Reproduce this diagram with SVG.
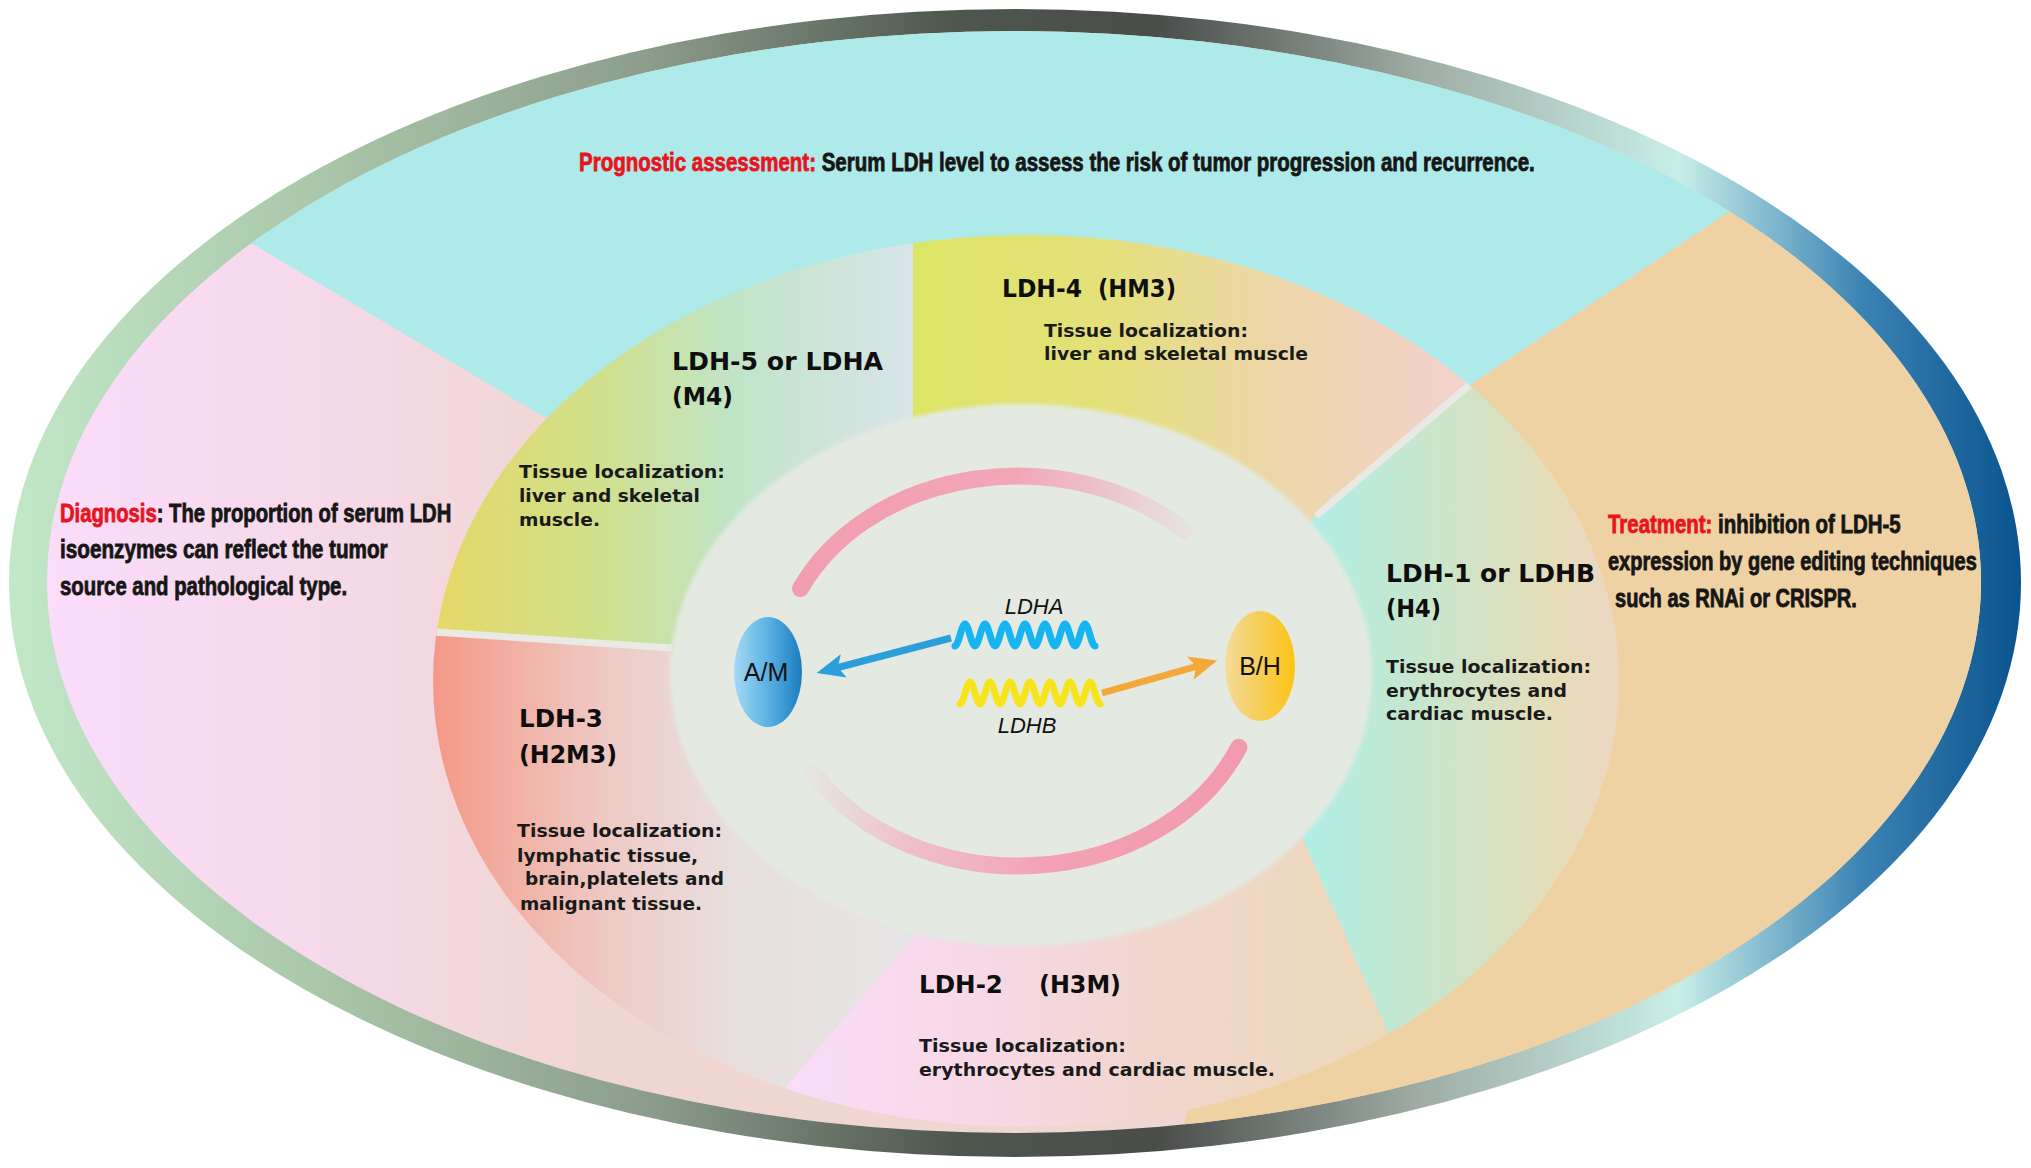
<svg xmlns="http://www.w3.org/2000/svg" width="2031" height="1168" viewBox="0 0 2031 1168">
<style>
.outer{font-family:"Liberation Sans",Arial,sans-serif;font-weight:bold;font-size:25px;fill:#161616;stroke:#161616;stroke-width:0.8}
.red{fill:#e8141e;stroke:#e8141e}
.title{font-family:"DejaVu Sans","Liberation Sans",sans-serif;font-weight:bold;font-size:25px;fill:#0e0e0e}
.tissue{font-family:"DejaVu Sans","Liberation Sans",sans-serif;font-weight:bold;font-size:18.5px;fill:#1a1a1a}
.gene{font-family:"Liberation Sans",Arial,sans-serif;font-style:italic;font-size:22px;fill:#111;text-anchor:middle}
.sub{font-family:"Liberation Sans",Arial,sans-serif;font-size:25px;fill:#111;text-anchor:middle}
.divider{stroke:#e9e9e6;stroke-width:7;fill:none}
.arc{fill:none;stroke-width:17;stroke-linecap:round}
.wave{fill:none;stroke-width:7;stroke-linejoin:round;stroke-linecap:round}
.arrow{fill:none;stroke-width:7}
</style>
<defs>
<linearGradient id="gBorder" x1="0" y1="0" x2="1" y2="0">
<stop offset="0" stop-color="#c2e8c8"/>
<stop offset="0.15" stop-color="#aac8aa"/>
<stop offset="0.32" stop-color="#8c9c8c"/>
<stop offset="0.47" stop-color="#4e564e"/>
<stop offset="0.57" stop-color="#4a4c4a"/>
<stop offset="0.7" stop-color="#9eaca4"/>
<stop offset="0.83" stop-color="#c8eee8"/>
<stop offset="0.92" stop-color="#3c84b4"/>
<stop offset="1" stop-color="#0a538e"/>
</linearGradient>
<linearGradient id="gLeft" gradientUnits="userSpaceOnUse" x1="48" y1="0" x2="600" y2="0">
<stop offset="0" stop-color="#fbdcfb"/>
<stop offset="0.5" stop-color="#f6d9ea"/>
<stop offset="1" stop-color="#f0d6d0"/>
</linearGradient>
<linearGradient id="gL5" gradientUnits="userSpaceOnUse" x1="433" y1="0" x2="913" y2="0">
<stop offset="0" stop-color="#e6d866"/>
<stop offset="0.35" stop-color="#d0e08c"/>
<stop offset="0.62" stop-color="#c0e4c6"/>
<stop offset="1" stop-color="#d8e4ea"/>
</linearGradient>
<linearGradient id="gL4" gradientUnits="userSpaceOnUse" x1="913" y1="0" x2="1464" y2="0">
<stop offset="0" stop-color="#dde566"/>
<stop offset="0.35" stop-color="#e4e07a"/>
<stop offset="0.65" stop-color="#ecd6a8"/>
<stop offset="1" stop-color="#f2d2cc"/>
</linearGradient>
<linearGradient id="gL1" gradientUnits="userSpaceOnUse" x1="1300" y1="0" x2="1620" y2="0">
<stop offset="0" stop-color="#aeeee6"/>
<stop offset="0.4" stop-color="#c8e6cc"/>
<stop offset="0.8" stop-color="#e6dcb8"/>
<stop offset="1" stop-color="#ecd8c4"/>
</linearGradient>
<linearGradient id="gL2" gradientUnits="userSpaceOnUse" x1="790" y1="0" x2="1400" y2="0">
<stop offset="0" stop-color="#fbdcfa"/>
<stop offset="0.35" stop-color="#f6d8e4"/>
<stop offset="0.6" stop-color="#f0d6cc"/>
<stop offset="1" stop-color="#ecd8b8"/>
</linearGradient>
<linearGradient id="gL3" gradientUnits="userSpaceOnUse" x1="433" y1="0" x2="930" y2="0">
<stop offset="0" stop-color="#f49886"/>
<stop offset="0.12" stop-color="#f2aa9c"/>
<stop offset="0.35" stop-color="#eecac4"/>
<stop offset="0.6" stop-color="#e8dede"/>
<stop offset="1" stop-color="#e6e6e6"/>
</linearGradient>
<linearGradient id="gArcTop" gradientUnits="userSpaceOnUse" x1="800" y1="0" x2="1190" y2="0">
<stop offset="0" stop-color="#f29eb1"/>
<stop offset="0.55" stop-color="#f2a6b6"/>
<stop offset="1" stop-color="#e6e2e0"/>
</linearGradient>
<linearGradient id="gArcBot" gradientUnits="userSpaceOnUse" x1="1239" y1="0" x2="814" y2="0">
<stop offset="0" stop-color="#f29aae"/>
<stop offset="0.45" stop-color="#f2a2b4"/>
<stop offset="0.78" stop-color="#efc0c8"/>
<stop offset="1" stop-color="#e6e4e0"/>
</linearGradient>
<linearGradient id="gAM" x1="0" y1="0" x2="1" y2="0">
<stop offset="0" stop-color="#a6d8f4"/>
<stop offset="0.5" stop-color="#5ab2e4"/>
<stop offset="1" stop-color="#1a7cc0"/>
</linearGradient>
<linearGradient id="gBH" x1="0" y1="0" x2="1" y2="0">
<stop offset="0" stop-color="#f4dc9c"/>
<stop offset="0.55" stop-color="#f6cc50"/>
<stop offset="1" stop-color="#fcc414"/>
</linearGradient>
<clipPath id="clipContent"><ellipse cx="1014" cy="582" rx="967" ry="551"/></clipPath>
<clipPath id="clipRing"><ellipse cx="1026" cy="681" rx="593" ry="446"/></clipPath>
<filter id="soft" x="-5%" y="-5%" width="110%" height="110%"><feGaussianBlur stdDeviation="2"/></filter>
<marker id="headBlue" viewBox="0 0 28 24" markerWidth="28" markerHeight="24" refX="8" refY="12" orient="auto" markerUnits="userSpaceOnUse">
<path d="M0,0 L28,12 L0,24 L6,12 z" fill="#2b9fd8"/>
</marker>
<marker id="headOrange" viewBox="0 0 28 24" markerWidth="28" markerHeight="24" refX="8" refY="12" orient="auto" markerUnits="userSpaceOnUse">
<path d="M0,0 L28,12 L0,24 L6,12 z" fill="#f5a83a"/>
</marker>
</defs>
<rect width="2031" height="1168" fill="#ffffff"/>
<g id="frame">
<ellipse cx="1015" cy="583" rx="1006" ry="574" fill="url(#gBorder)"/>
</g>
<g id="background" clip-path="url(#clipContent)">
<rect x="0" y="0" width="2031" height="1168" fill="url(#gLeft)"/>
<polygon points="0,94 544,417 1026,400 1464,389 2031,10 2031,0 0,0" fill="#aeeaea"/>
<polygon points="2031,10 1464,389 1300,700 1172,1168 2031,1168" fill="#efd2a3"/>
</g>
<g id="ring" clip-path="url(#clipRing)">
<g id="node-ldh5-bg"><polygon points="300,623 667,648 1023,680 913,420 913,150 300,150" fill="url(#gL5)"/></g>
<g id="node-ldh4-bg"><polygon points="913,150 913,420 1023,680 1300,530 1530,332 1530,150" fill="url(#gL4)"/></g>
<g id="node-ldh1-bg"><polygon points="1530,332 1300,530 1023,680 1290,810 1410,1083 1700,1083 1700,332" fill="url(#gL1)"/></g>
<g id="node-ldh2-bg"><polygon points="1410,1083 1290,810 1023,680 930,917 760,1117 760,1200 1410,1200" fill="url(#gL2)"/></g>
<g id="node-ldh3-bg"><polygon points="760,1117 930,917 1023,680 667,648 300,623 300,1200 760,1200" fill="url(#gL3)"/></g>
<line class="divider" x1="420" y1="631" x2="672" y2="648"/>
<line class="divider" x1="1480" y1="376" x2="1316" y2="516" stroke-width="5"/>
</g>
<g id="node-center">
<ellipse cx="1021" cy="675" rx="351" ry="271" fill="#e4eae2" filter="url(#soft)"/>
<path class="arc" d="M800.5,588.6 A240,195 0 0 1 1184.7,530.7" stroke="url(#gArcTop)"/>
<path class="arc" d="M1238.9,747.2 A240,195 0 0 1 814.5,774.3" stroke="url(#gArcBot)"/>
</g>
<g id="node-prognostic">
<text class="outer" transform="translate(579,171) scale(0.82,1)"><tspan class="red">Prognostic assessment:</tspan> Serum LDH level to assess the risk of tumor progression and recurrence.</text>
</g>
<g id="node-diagnosis">
<text class="outer" transform="translate(60,522) scale(0.81,1)"><tspan class="red">Diagnosis</tspan>: The proportion of serum LDH</text>
<text class="outer" transform="translate(60,558) scale(0.828,1)">isoenzymes can reflect the tumor</text>
<text class="outer" transform="translate(60,595) scale(0.814,1)">source and pathological type.</text>
</g>
<g id="node-treatment">
<text class="outer" transform="translate(1608,533) scale(0.817,1)"><tspan class="red">Treatment:</tspan> inhibition of LDH-5</text>
<text class="outer" transform="translate(1608,570) scale(0.8,1)">expression by gene editing techniques</text>
<text class="outer" transform="translate(1615,607) scale(0.803,1)">such as RNAi or CRISPR.</text>
</g>
<g id="node-ldh5">
<text class="title" x="672" y="370" textLength="211" lengthAdjust="spacingAndGlyphs">LDH-5 or LDHA</text>
<text class="title" x="672" y="405" textLength="61" lengthAdjust="spacingAndGlyphs">(M4)</text>
<text class="tissue" x="519" y="478" textLength="206" lengthAdjust="spacingAndGlyphs">Tissue localization:</text>
<text class="tissue" x="519" y="502" textLength="181" lengthAdjust="spacingAndGlyphs">liver and skeletal</text>
<text class="tissue" x="519" y="526" textLength="81" lengthAdjust="spacingAndGlyphs">muscle.</text>
</g>
<g id="node-ldh4">
<text class="title" x="1002" y="297" textLength="80" lengthAdjust="spacingAndGlyphs">LDH-4</text>
<text class="title" x="1098" y="297" textLength="78" lengthAdjust="spacingAndGlyphs">(HM3)</text>
<text class="tissue" x="1044" y="337" textLength="204" lengthAdjust="spacingAndGlyphs">Tissue localization:</text>
<text class="tissue" x="1044" y="360" textLength="264" lengthAdjust="spacingAndGlyphs">liver and skeletal muscle</text>
</g>
<g id="node-ldh1">
<text class="title" x="1386" y="582" textLength="209" lengthAdjust="spacingAndGlyphs">LDH-1 or LDHB</text>
<text class="title" x="1386" y="617" textLength="55" lengthAdjust="spacingAndGlyphs">(H4)</text>
<text class="tissue" x="1386" y="673" textLength="205" lengthAdjust="spacingAndGlyphs">Tissue localization:</text>
<text class="tissue" x="1386" y="697" textLength="181" lengthAdjust="spacingAndGlyphs">erythrocytes and</text>
<text class="tissue" x="1386" y="720" textLength="167" lengthAdjust="spacingAndGlyphs">cardiac muscle.</text>
</g>
<g id="node-ldh3">
<text class="title" x="519" y="727" textLength="84" lengthAdjust="spacingAndGlyphs">LDH-3</text>
<text class="title" x="519" y="763" textLength="98" lengthAdjust="spacingAndGlyphs">(H2M3)</text>
<text class="tissue" x="517" y="837" textLength="205" lengthAdjust="spacingAndGlyphs">Tissue localization:</text>
<text class="tissue" x="517" y="862" textLength="181" lengthAdjust="spacingAndGlyphs">lymphatic tissue,</text>
<text class="tissue" x="525" y="885" textLength="199" lengthAdjust="spacingAndGlyphs">brain,platelets and</text>
<text class="tissue" x="520" y="910" textLength="182" lengthAdjust="spacingAndGlyphs">malignant tissue.</text>
</g>
<g id="node-ldh2">
<text class="title" x="919" y="993" textLength="84" lengthAdjust="spacingAndGlyphs">LDH-2</text>
<text class="title" x="1039" y="993" textLength="82" lengthAdjust="spacingAndGlyphs">(H3M)</text>
<text class="tissue" x="919" y="1052" textLength="207" lengthAdjust="spacingAndGlyphs">Tissue localization:</text>
<text class="tissue" x="919" y="1076" textLength="356" lengthAdjust="spacingAndGlyphs">erythrocytes and cardiac muscle.</text>
</g>
<g id="node-am">
<ellipse cx="768" cy="672" rx="34" ry="55" fill="url(#gAM)"/>
<text class="sub" x="766" y="681">A/M</text>
</g>
<g id="node-bh">
<ellipse cx="1260" cy="666" rx="35" ry="55" fill="url(#gBH)"/>
<text class="sub" x="1260" y="675">B/H</text>
</g>
<g id="node-ldha">
<text class="gene" x="1034" y="614">LDHA</text>
<path class="wave" stroke="#16b4f0" d="M955,646 c3.64,0 6.36,-22 10,-22 c3.64,0 6.36,22 10,22 c3.64,0 6.36,-22 10,-22 c3.64,0 6.36,22 10,22 c3.64,0 6.36,-22 10,-22 c3.64,0 6.36,22 10,22 c3.64,0 6.36,-22 10,-22 c3.64,0 6.36,22 10,22 c3.64,0 6.36,-22 10,-22 c3.64,0 6.36,22 10,22 c3.64,0 6.36,-22 10,-22 c3.64,0 6.36,22 10,22 c3.64,0 6.36,-22 10,-22 c3.64,0 6.36,22 10,22"/>
</g>
<g id="node-ldhb">
<text class="gene" x="1027" y="733">LDHB</text>
<path class="wave" stroke="#f8e41c" d="M960,704 c3.64,0 6.36,-22 10,-22 c3.64,0 6.36,22 10,22 c3.64,0 6.36,-22 10,-22 c3.64,0 6.36,22 10,22 c3.64,0 6.36,-22 10,-22 c3.64,0 6.36,22 10,22 c3.64,0 6.36,-22 10,-22 c3.64,0 6.36,22 10,22 c3.64,0 6.36,-22 10,-22 c3.64,0 6.36,22 10,22 c3.64,0 6.36,-22 10,-22 c3.64,0 6.36,22 10,22 c3.64,0 6.36,-22 10,-22 c3.64,0 6.36,22 10,22"/>
</g>
<g id="connectors">
<line class="arrow" x1="951" y1="638" x2="836" y2="668" stroke="#2b9fd8" marker-end="url(#headBlue)"/>
<line class="arrow" x1="1102" y1="693" x2="1198" y2="666" stroke="#f5a83a" marker-end="url(#headOrange)"/>
</g>
</svg>
